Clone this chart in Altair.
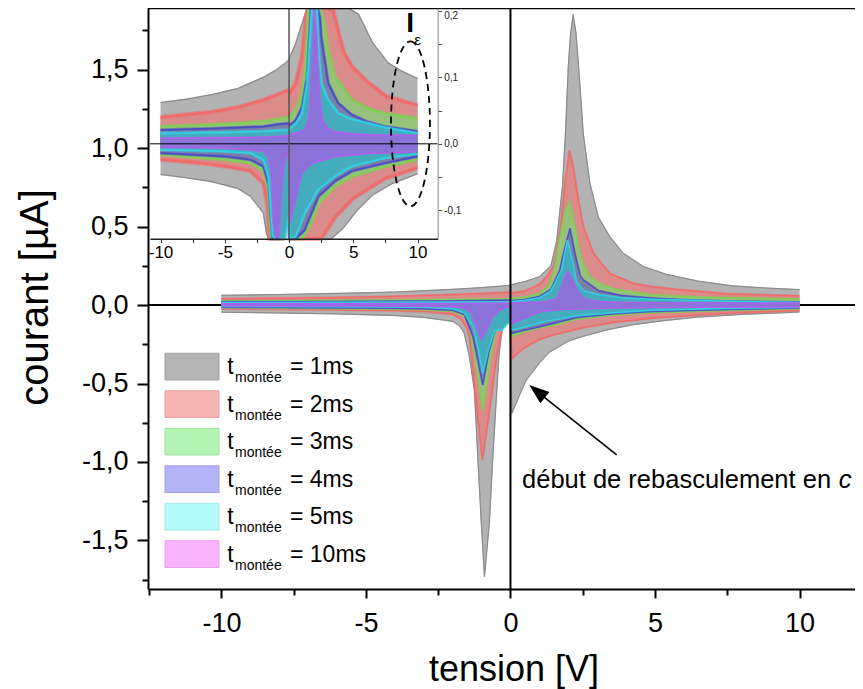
import altair as alt
import pandas as pd

FONT = "Liberation Sans"

SERIES = ["1ms", "2ms", "3ms", "4ms", "5ms", "10ms"]
FILL_COLORS = ["#b3b3b3", "#dc8b8b", "#97c27b", "#7d7fa8", "#45acbd", "#8a72d8"]
EDGE_COLORS = ["#8a8a8a", "#f06a6a", "#80cf55", "#4b4bc6", "#30d2e4", "#b65cf0"]
EDGE_WIDTHS_MAIN = [1.2, 2.4, 2.2, 2.0, 2.0, 1.6]
EDGE_WIDTHS_IN = [1.6, 4.5, 3.4, 3.0, 3.0, 2.0]
SWATCH_FILL = ["#b4b4b4", "#f8b4b4", "#b4f4b4", "#b4b4f8", "#b4fbfb", "#fbb4fb"]
SWATCH_STROKE = ["#a0a0a0", "#e8a0a0", "#a0e0a0", "#a0a0e8", "#a0e8e8", "#e8a0e8"]
LEGEND_TEXT = ["= 1ms", "= 2ms", "= 3ms", "= 4ms", "= 5ms", "= 10ms"]

# ---- upper envelopes (courant > 0) ----
X_UP_1 = [-10, -8, -6, -4, -2, -1, -0.3, -0.02, 0.05, 0.5, 1.0, 1.4, 1.6, 1.8, 1.9, 2.0, 2.08, 2.17, 2.27, 2.4, 2.52, 2.75, 3.04, 3.44, 3.9, 4.6, 5.4, 6.5, 7.7, 8.7, 10.0]
Y_UP_1 = [0.062, 0.067, 0.074, 0.083, 0.100, 0.111, 0.121, 0.126, 0.130, 0.150, 0.180, 0.25, 0.41, 0.76, 1.09, 1.52, 1.73, 1.85, 1.73, 1.41, 1.09, 0.775, 0.56, 0.435, 0.33, 0.245, 0.195, 0.152, 0.122, 0.110, 0.098]
X_UP_2 = [-10, -8, -6, -4, -2, -1, -0.3, -0.02, 0.05, 0.5, 1.0, 1.3, 1.5, 1.71, 1.89, 2.04, 2.17, 2.35, 2.52, 2.87, 3.44, 4.25, 4.9, 6.0, 7.5, 10.0]
Y_UP_2 = [0.040, 0.044, 0.048, 0.055, 0.066, 0.073, 0.079, 0.081, 0.076, 0.090, 0.130, 0.19, 0.25, 0.457, 0.775, 0.987, 0.88, 0.67, 0.50, 0.33, 0.20, 0.138, 0.116, 0.095, 0.072, 0.058]
X_UP_3 = [-10, -6, -4, -2, -1, -0.02, 0.05, 0.5, 1.0, 1.3, 1.5, 1.7, 1.9, 2.04, 2.23, 2.46, 2.75, 3.06, 3.58, 4.88, 6.17, 7.47, 10.0]
Y_UP_3 = [0.026, 0.029, 0.031, 0.034, 0.037, 0.040, 0.041, 0.050, 0.075, 0.12, 0.20, 0.42, 0.60, 0.658, 0.50, 0.29, 0.18, 0.141, 0.101, 0.066, 0.053, 0.046, 0.038]
X_UP_4 = [-10, -6, -2, -1, -0.02, 0.05, 0.5, 1.0, 1.4, 1.7, 1.89, 2.06, 2.23, 2.41, 2.52, 3.06, 3.84, 4.88, 6.0, 7.47, 10.0]
Y_UP_4 = [0.021, 0.023, 0.026, 0.029, 0.031, 0.028, 0.035, 0.055, 0.10, 0.22, 0.37, 0.488, 0.33, 0.19, 0.16, 0.091, 0.061, 0.044, 0.034, 0.026, 0.019]
X_UP_5 = [-10, -6, -2, -1, -0.02, 0.05, 0.5, 1.0, 1.4, 1.77, 1.97, 2.17, 2.28, 2.54, 3.06, 3.84, 4.88, 7.47, 10.0]
Y_UP_5 = [0.016, 0.017, 0.019, 0.020, 0.021, 0.023, 0.030, 0.045, 0.09, 0.223, 0.414, 0.265, 0.15, 0.091, 0.066, 0.046, 0.037, 0.025, 0.016]
X_UP_10 = [-10, -6, -2, -1, -0.02, 0.05, 0.5, 1.0, 1.25, 1.5, 1.63, 1.77, 1.97, 2.15, 2.3, 2.45, 2.64, 3.0, 3.58, 5.0, 6.17, 8.0, 10.0]
Y_UP_10 = [0.0085, 0.009, 0.010, 0.011, 0.012, 0.014, 0.016, 0.019, 0.022, 0.035, 0.051, 0.116, 0.215, 0.16, 0.10, 0.055, 0.035, 0.024, 0.018, 0.015, 0.0135, 0.013, 0.0125]

# ---- lower envelopes (courant < 0) ----
X_LO_1 = [-10, -8, -6, -4, -3, -2, -1.75, -1.6, -1.42, -1.25, -1.13, -1.01, -0.9, -0.73, -0.61, -0.47, -0.40, -0.27, -0.12, -0.02, 0.05, 0.3, 0.54, 1.0, 1.35, 2.0, 2.5, 3.3, 4.2, 5.3, 6.5, 8.0, 10.0]
Y_LO_1 = [-0.046, -0.051, -0.057, -0.067, -0.079, -0.104, -0.135, -0.18, -0.33, -0.54, -0.97, -1.39, -1.73, -1.39, -0.97, -0.54, -0.33, -0.12, -0.06, -0.05, -0.69, -0.58, -0.48, -0.37, -0.30, -0.23, -0.20, -0.16, -0.127, -0.10, -0.077, -0.06, -0.045]
X_LO_2 = [-10, -8, -6, -4, -3, -2, -1.7, -1.5, -1.4, -1.17, -0.97, -0.71, -0.48, -0.25, -0.1, -0.02, 0.05, 0.5, 1.0, 1.5, 2.5, 3.6, 5.0, 7.5, 10.0]
Y_LO_2 = [-0.024, -0.027, -0.031, -0.037, -0.041, -0.059, -0.09, -0.15, -0.22, -0.65, -0.99, -0.65, -0.33, -0.12, -0.06, -0.05, -0.34, -0.27, -0.22, -0.19, -0.145, -0.11, -0.082, -0.052, -0.036]
X_LO_3 = [-10, -5, -3, -2, -1.6, -1.4, -1.23, -0.96, -0.7, -0.5, -0.3, -0.02, 0.05, 0.5, 1.0, 1.6, 2.3, 3.6, 4.9, 7.5, 10.0]
Y_LO_3 = [-0.0165, -0.024, -0.029, -0.041, -0.07, -0.15, -0.33, -0.67, -0.35, -0.16, -0.08, -0.045, -0.2, -0.17, -0.145, -0.125, -0.09, -0.064, -0.049, -0.034, -0.024]
X_LO_4 = [-10, -5, -3, -2, -1.6, -1.3, -1.1, -0.96, -0.75, -0.5, -0.3, -0.02, 0.05, 0.5, 1.2, 2.3, 3.6, 4.9, 7.5, 10.0]
Y_LO_4 = [-0.014, -0.019, -0.024, -0.034, -0.06, -0.2, -0.38, -0.51, -0.3, -0.14, -0.07, -0.04, -0.18, -0.16, -0.13, -0.079, -0.056, -0.041, -0.029, -0.019]
X_LO_5 = [-10, -5, -3, -2, -1.6, -1.29, -1.11, -0.96, -0.77, -0.54, -0.3, -0.1, -0.02, 0.05, 0.5, 1.25, 2.28, 3.58, 4.88, 7.47, 10.0]
Y_LO_5 = [-0.009, -0.0115, -0.014, -0.024, -0.05, -0.138, -0.287, -0.435, -0.287, -0.16, -0.16, -0.12, -0.11, -0.16, -0.14, -0.104, -0.069, -0.049, -0.034, -0.0215, -0.015]
X_LO_10 = [-10, -5, -3, -2, -1.6, -1.34, -1.23, -1.0, -0.8, -0.6, -0.36, -0.1, -0.02, 0.05, 0.3, 0.5, 1.0, 1.8, 3.6, 6.2, 10.0]
Y_LO_10 = [-0.005, -0.0065, -0.009, -0.011, -0.02, -0.053, -0.117, -0.223, -0.15, -0.074, -0.03, -0.015, -0.012, -0.12, -0.10, -0.084, -0.044, -0.029, -0.019, -0.0145, -0.012]

UP_X = [X_UP_1, X_UP_2, X_UP_3, X_UP_4, X_UP_5, X_UP_10]
UP_Y = [Y_UP_1, Y_UP_2, Y_UP_3, Y_UP_4, Y_UP_5, Y_UP_10]
LO_X = [X_LO_1, X_LO_2, X_LO_3, X_LO_4, X_LO_5, X_LO_10]
LO_Y = [Y_LO_1, Y_LO_2, Y_LO_3, Y_LO_4, Y_LO_5, Y_LO_10]

X_MAJOR = [-10, -5, 0, 5, 10]
X_MINOR = [-12.5, -7.5, -2.5, 2.5, 7.5]
Y_MAJOR = [-1.5, -1.0, -0.5, 0, 0.5, 1.0, 1.5]
Y_MINOR = [-1.75, -1.25, -0.75, -0.25, 0.25, 0.75, 1.25, 1.75]
X_MAJOR_IN = [-10, -5, 0, 5, 10]
X_MINOR_IN = [-7.5, -2.5, 2.5, 7.5]
Y_MAJOR_IN = [-0.1, 0, 0.1, 0.2]
Y_MINOR_IN = [-0.05, 0.05, 0.15]

W, H = 707, 581


def xs_main():
    return alt.Scale(domain=[-12.54, 11.92], nice=False, zero=False)


def ys_main():
    return alt.Scale(domain=[-1.809, 1.892], nice=False, zero=False)


def xs_in():
    return alt.Scale(domain=[-10.82, 11.57], range=[2, 289.7], nice=False, zero=False, clamp=True)


def ys_in():
    return alt.Scale(domain=[-0.1425, 0.204], range=[230.7, 0], nice=False, zero=False, clamp=True)


AX_COMMON = dict(grid=False, labelOverlap=False)

MAIN_X_AXIS = alt.Axis(
    orient="bottom", values=X_MAJOR, format="d", tickSize=9, tickWidth=2, tickColor="black",
    domainColor="black", domainWidth=2, labelFont=FONT, labelFontSize=27, labelColor="black",
    labelPadding=12, labelFlush=False, title="tension [V]", titleFont=FONT, titleFontSize=36,
    titleFontWeight="normal", titleColor="black", titleX=365.5, titleY=91,
    titleBaseline="alphabetic", **AX_COMMON)
MAIN_X_MINOR = alt.Axis(
    orient="bottom", values=X_MINOR, labels=False, domain=False, tickSize=6, tickWidth=2,
    tickColor="black", title=None, **AX_COMMON)
MAIN_Y_AXIS = alt.Axis(
    orient="left", values=Y_MAJOR, format=".1f", tickSize=11, tickWidth=2, tickColor="black",
    domainColor="black", domainWidth=2, labelFont=FONT, labelFontSize=27, labelColor="black",
    labelPadding=9, labelFlush=False, title="courant [\u00b5A]", titleFont=FONT, titleFontSize=40,
    titleFontWeight="normal", titleColor="black", titleX=-113, titleY=289,
    titleBaseline="middle", titleAngle=270, **AX_COMMON)
MAIN_Y_MINOR = alt.Axis(
    orient="left", values=Y_MINOR, labels=False, domain=False, tickSize=6, tickWidth=2,
    tickColor="black", title=None, **AX_COMMON)
IN_X_AXIS = alt.Axis(
    orient="bottom", offset=-350.3, values=X_MAJOR_IN, format="d", tickSize=4, tickWidth=1,
    tickColor="#333333", domainColor="#222222", domainWidth=1.5, labelFont=FONT,
    labelFontSize=17, labelColor="black", labelPadding=2, labelFlush=False, title=None,
    zindex=1, **AX_COMMON)
IN_X_MINOR = alt.Axis(
    orient="bottom", offset=-350.3, values=X_MINOR_IN, labels=False, domain=False,
    tickSize=4, tickWidth=1, tickColor="#333333", title=None, zindex=1, **AX_COMMON)
IN_Y_AXIS = alt.Axis(
    orient="right", offset=-417.3, values=Y_MAJOR_IN, format=".1f", tickSize=4, tickWidth=1,
    tickColor="#555555", domainColor="#888888", domainWidth=1, labelFont=FONT,
    labelFontSize=10, labelColor="#222222", labelPadding=2, labelFlush=5, title=None,
    zindex=1, **AX_COMMON)
IN_Y_MINOR = alt.Axis(
    orient="right", offset=-417.3, values=Y_MINOR_IN, labels=False, domain=False,
    tickSize=4, tickWidth=1, tickColor="#555555", title=None, zindex=1, **AX_COMMON)


def band_layers(xsf, ysf, widths):
    out = []
    for i in range(len(SERIES)):
        up = pd.DataFrame({"x": UP_X[i], "y": UP_Y[i]})
        lo = pd.DataFrame({"x": LO_X[i], "y": LO_Y[i]})
        for df in (up, lo):
            out.append(alt.Chart(df).mark_area(color=FILL_COLORS[i], opacity=1).encode(
                x=alt.X("x:Q", scale=xsf(), axis=None),
                y=alt.Y("y:Q", scale=ysf(), axis=None),
                y2=alt.datum(0)))
        for df in (up, lo):
            # soft, wide stroke imitating the noisy edge, then a crisp core line
            out.append(alt.Chart(df).mark_line(color=EDGE_COLORS[i], strokeWidth=widths[i],
                                               opacity=0.55).encode(
                x=alt.X("x:Q", scale=xsf(), axis=None),
                y=alt.Y("y:Q", scale=ysf(), axis=None)))
            out.append(alt.Chart(df).mark_line(color=EDGE_COLORS[i],
                                               strokeWidth=max(1.0, widths[i] * 0.45)).encode(
                x=alt.X("x:Q", scale=xsf(), axis=None),
                y=alt.Y("y:Q", scale=ysf(), axis=None)))
    return out


def axis_carrier(xsf, ysf, x_axis, y_axis):
    return alt.Chart().mark_rule(opacity=0).encode(
        x=alt.XDatum(0, scale=xsf(), axis=x_axis, type="quantitative"),
        y=alt.YDatum(0, scale=ysf(), axis=y_axis, type="quantitative"))


# ---------------- main panel ----------------
main_axes = [axis_carrier(xs_main, ys_main, MAIN_X_AXIS, MAIN_Y_AXIS),
             axis_carrier(xs_main, ys_main, MAIN_X_MINOR, MAIN_Y_MINOR)]
zero_h = alt.Chart().mark_rule(color="black", strokeWidth=2).encode(
    y=alt.YDatum(0, scale=ys_main(), axis=None, type="quantitative"))
main_bands = band_layers(xs_main, ys_main, EDGE_WIDTHS_MAIN)
zero_v = alt.Chart().mark_rule(color="black", strokeWidth=2).encode(
    x=alt.XDatum(0, scale=xs_main(), axis=None, type="quantitative"))

arrow_line = alt.Chart().mark_rule(color="black", strokeWidth=1.6).encode(
    x=alt.XDatum(3.675, scale=xs_main(), axis=None, type="quantitative"),
    y=alt.YDatum(-0.955, scale=ys_main(), axis=None, type="quantitative"),
    x2=alt.datum(1.045), y2=alt.datum(-0.569))
arrow_head = alt.Chart().mark_point(
    shape="M0,0L-0.36,1L0.36,1Z", filled=True, color="black", opacity=1,
    size=1600, angle=308.7, strokeWidth=0).encode(
    x=alt.XDatum(0.65, scale=xs_main(), axis=None, type="quantitative"),
    y=alt.YDatum(-0.51, scale=ys_main(), axis=None, type="quantitative"))
annot_text = alt.Chart().mark_text(
    text="d\u00e9but de rebasculement en ", align="left", baseline="alphabetic",
    font=FONT, fontSize=25.5, color="black").encode(
    x=alt.XDatum(0.40, scale=xs_main(), axis=None, type="quantitative"),
    y=alt.YDatum(-1.166, scale=ys_main(), axis=None, type="quantitative"))
annot_c = alt.Chart().mark_text(
    text="c", align="left", baseline="alphabetic", font=FONT, fontSize=25.5,
    fontStyle="italic", color="black").encode(
    x=alt.XDatum(11.36, scale=xs_main(), axis=None, type="quantitative"),
    y=alt.YDatum(-1.166, scale=ys_main(), axis=None, type="quantitative"))

leg = pd.DataFrame({"idx": list(range(len(SERIES))), "label": LEGEND_TEXT,
                    "fill": SWATCH_FILL, "stroke": SWATCH_STROKE})
leg_base = alt.Chart(leg).transform_calculate(
    y0="345.3 + 37.5*datum.idx", y1="372 + 37.5*datum.idx",
    ty="366.3 + 37.5*datum.idx", sy="374.3 + 37.5*datum.idx")
leg_rect = leg_base.mark_rect(strokeWidth=1).encode(
    x=alt.value(17), x2=alt.value(71),
    y=alt.Y("y0:Q", scale=None), y2=alt.Y2("y1:Q"),
    fill=alt.Fill("fill:N", scale=None, legend=None),
    stroke=alt.Stroke("stroke:N", scale=None, legend=None))
leg_t = leg_base.mark_text(text="t", align="left", baseline="alphabetic", font=FONT,
                           fontSize=23, color="black").encode(
    x=alt.value(79.3), y=alt.Y("ty:Q", scale=None))
leg_sub = leg_base.mark_text(text="mont\u00e9e", align="left", baseline="alphabetic", font=FONT,
                             fontSize=14, color="black").encode(
    x=alt.value(87), y=alt.Y("sy:Q", scale=None))
leg_lab = leg_base.mark_text(align="left", baseline="alphabetic", font=FONT,
                             fontSize=23, color="black").encode(
    x=alt.value(142), y=alt.Y("ty:Q", scale=None), text="label:N")

# ---------------- inset panel ----------------
inset_axes = [axis_carrier(xs_in, ys_in, IN_X_AXIS, IN_Y_AXIS),
              axis_carrier(xs_in, ys_in, IN_X_MINOR, IN_Y_MINOR)]
inset_bands = band_layers(xs_in, ys_in, EDGE_WIDTHS_IN)
in_zero_h = alt.Chart().mark_rule(color="black", strokeWidth=1).encode(
    x=alt.XDatum(-10.82, scale=xs_in(), axis=None, type="quantitative"), x2=alt.datum(11.57),
    y=alt.YDatum(0, scale=ys_in(), axis=None, type="quantitative"))
in_zero_v = alt.Chart().mark_rule(color="#555555", strokeWidth=1.5).encode(
    x=alt.XDatum(0, scale=xs_in(), axis=None, type="quantitative"),
    y=alt.YDatum(-0.1425, scale=ys_in(), axis=None, type="quantitative"), y2=alt.datum(0.204))
ellipse = alt.Chart().mark_point(
    shape="M0,-1A0.236,1,0,1,1,0,1A0.236,1,0,1,1,0,-1Z", filled=False, color="black",
    opacity=1, size=27225, strokeWidth=1.8, strokeDash=[7, 5]).encode(
    x=alt.XDatum(9.45, scale=xs_in(), axis=None, type="quantitative"),
    y=alt.YDatum(0.030, scale=ys_in(), axis=None, type="quantitative"))
eps = alt.Chart().mark_text(text="\u03b5", font=FONT, fontSize=15, color="black",
                            baseline="middle", align="center").encode(
    x=alt.XDatum(10.0, scale=xs_in(), axis=None, type="quantitative"),
    y=alt.YDatum(0.156, scale=ys_in(), axis=None, type="quantitative"))
big_i = alt.Chart().mark_text(text="I", font=FONT, fontSize=28, fontWeight="bold", color="black",
                              baseline="middle", align="center").encode(
    x=alt.XDatum(9.42, scale=xs_in(), axis=None, type="quantitative"),
    y=alt.YDatum(0.180, scale=ys_in(), axis=None, type="quantitative"))

top_border = alt.Chart().mark_rule(color="black", strokeWidth=2.5).encode(
    x=alt.value(0), x2=alt.value(W), y=alt.value(0))

layers = (main_axes + [zero_h] + main_bands + [zero_v, arrow_line, arrow_head, annot_text, annot_c,
          leg_rect, leg_t, leg_sub, leg_lab] + inset_axes + inset_bands +
          [in_zero_h, in_zero_v, ellipse, eps, big_i, top_border])

chart = alt.layer(*layers).resolve_scale(
    x="independent", y="independent"
).properties(
    width=W, height=H,
    autosize=alt.AutoSizeParams(type="none"),
    padding={"left": 140, "top": 0, "right": 0, "bottom": 100},
    background="white",
).configure_view(stroke=None).configure(
    locale={"number": {"decimal": ",", "thousands": ".", "grouping": [3],
                       "currency": ["", ""], "minus": "-"}}
)

chart.save("out.html", embed_options={"renderer": "svg", "actions": False})
